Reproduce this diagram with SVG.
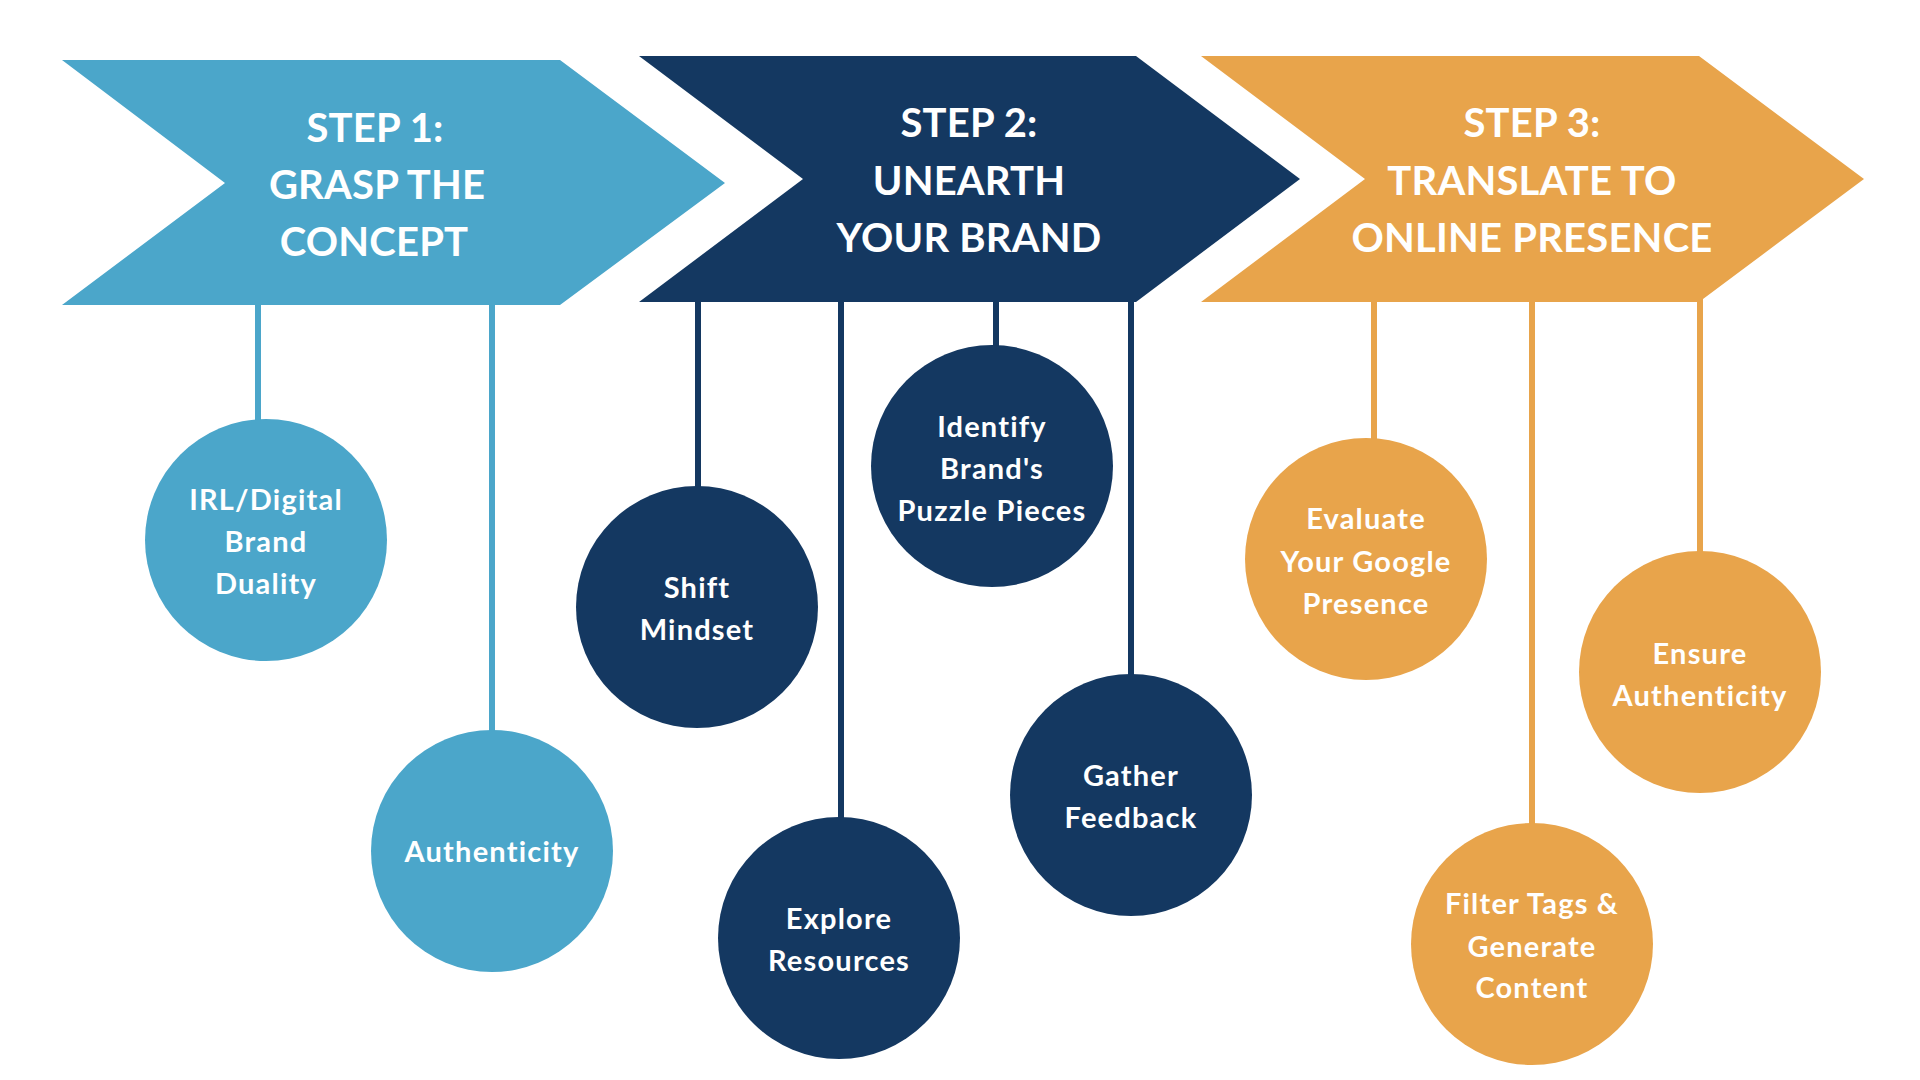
<svg xmlns="http://www.w3.org/2000/svg" width="1920" height="1080" viewBox="0 0 1920 1080">
<style>
.blue{fill:#4BA6CA}
.navy{fill:#143861}
.orange{fill:#E8A44B}
.lb{stroke:#4BA6CA}
.ln{stroke:#143861}
.lo{stroke:#E8A44B}
.conn line{stroke-width:6;fill:none}
.head{font-family:Lato,"Open Sans","Liberation Sans",sans-serif;font-weight:700;font-size:40px;fill:#fff;text-anchor:middle;letter-spacing:0.2px}
.lbl{font-family:Lato,"Open Sans","Liberation Sans",sans-serif;font-weight:700;font-size:29px;fill:#fff;text-anchor:middle;letter-spacing:1.2px}
</style>
<rect width="1920" height="1080" fill="#fff"/>
<g id="connectors" class="conn">
<line class="lb" x1="258" y1="300" x2="258" y2="425"/>
<line class="lb" x1="492" y1="300" x2="492" y2="736"/>
<line class="ln" x1="698" y1="298" x2="698" y2="492"/>
<line class="ln" x1="841" y1="298" x2="841" y2="823"/>
<line class="ln" x1="996" y1="298" x2="996" y2="351"/>
<line class="ln" x1="1131" y1="298" x2="1131" y2="680"/>
<line class="lo" x1="1374" y1="298" x2="1374" y2="444"/>
<line class="lo" x1="1532" y1="298" x2="1532" y2="829"/>
<line class="lo" x1="1700" y1="298" x2="1700" y2="557"/>
</g>
<g id="step1">
<polygon class="blue" points="62,60 560,60 725,183 560,305 62,305 225,183"/>
<text class="head" x="375" y="142">STEP 1:</text>
<text class="head" x="377" y="199">GRASP THE</text>
<text class="head" x="374" y="256">CONCEPT</text>
</g>
<g id="step2">
<polygon class="navy" points="639,56 1136,56 1300,179 1136,302 639,302 803,179"/>
<text class="head" x="969" y="137">STEP 2:</text>
<text class="head" x="969" y="195">UNEARTH</text>
<text class="head" x="969" y="252">YOUR BRAND</text>
</g>
<g id="step3">
<polygon class="orange" points="1201,56 1699,56 1864,179 1699,302 1201,302 1365,179"/>
<text class="head" x="1532" y="137">STEP 3:</text>
<text class="head" x="1532" y="195">TRANSLATE TO</text>
<text class="head" x="1532" y="252">ONLINE PRESENCE</text>
</g>
<g id="irl-digital">
<circle class="blue" cx="266" cy="540" r="121"/>
<text class="lbl" x="266" y="510">IRL/Digital</text>
<text class="lbl" x="266" y="552">Brand</text>
<text class="lbl" x="266" y="594">Duality</text>
</g>
<g id="authenticity">
<circle class="blue" cx="492" cy="851" r="121"/>
<text class="lbl" x="492" y="862">Authenticity</text>
</g>
<g id="shift-mindset">
<circle class="navy" cx="697" cy="607" r="121"/>
<text class="lbl" x="697" y="598">Shift</text>
<text class="lbl" x="697" y="640">Mindset</text>
</g>
<g id="explore-resources">
<circle class="navy" cx="839" cy="938" r="121"/>
<text class="lbl" x="839" y="929">Explore</text>
<text class="lbl" x="839" y="971">Resources</text>
</g>
<g id="identify">
<circle class="navy" cx="992" cy="466" r="121"/>
<text class="lbl" x="992" y="437">Identify</text>
<text class="lbl" x="992" y="479">Brand's</text>
<text class="lbl" x="992" y="521">Puzzle Pieces</text>
</g>
<g id="gather-feedback">
<circle class="navy" cx="1131" cy="795" r="121"/>
<text class="lbl" x="1131" y="786">Gather</text>
<text class="lbl" x="1131" y="828">Feedback</text>
</g>
<g id="evaluate">
<circle class="orange" cx="1366" cy="559" r="121"/>
<text class="lbl" x="1366" y="529">Evaluate</text>
<text class="lbl" x="1366" y="572">Your Google</text>
<text class="lbl" x="1366" y="614">Presence</text>
</g>
<g id="ensure-authenticity">
<circle class="orange" cx="1700" cy="672" r="121"/>
<text class="lbl" x="1700" y="664">Ensure</text>
<text class="lbl" x="1700" y="706">Authenticity</text>
</g>
<g id="filter-tags">
<circle class="orange" cx="1532" cy="944" r="121"/>
<text class="lbl" x="1532" y="914">Filter Tags &amp;</text>
<text class="lbl" x="1532" y="957">Generate</text>
<text class="lbl" x="1532" y="998">Content</text>
</g>
</svg>
